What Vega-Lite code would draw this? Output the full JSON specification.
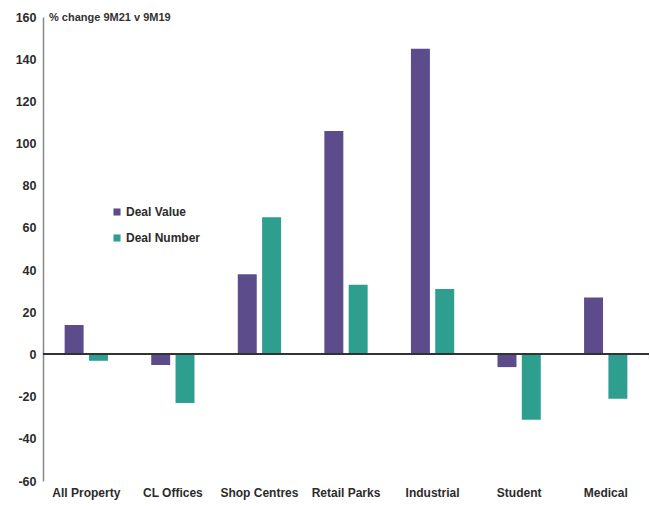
{
  "$schema": "https://vega.github.io/schema/vega-lite/v6.json",
  "width": 606,
  "height": 464,
  "autosize": {"type": "none"},
  "padding": {"left": 43, "top": 17, "right": 1, "bottom": 25},
  "background": "white",
  "config": {
    "view": {"stroke": null},
    "font": "Liberation Sans"
  },
  "title": {
    "text": "% change 9M21 v 9M19",
    "anchor": "start",
    "frame": "group",
    "orient": "top",
    "offset": 0,
    "dx": 6,
    "dy": 12,
    "fontSize": 11,
    "fontWeight": "bold",
    "color": "#333333",
    "font": "Liberation Sans"
  },
  "data": {
    "values": [
      {"category": "All Property", "series": "Deal Value", "value": 14},
      {"category": "All Property", "series": "Deal Number", "value": -3},
      {"category": "CL Offices", "series": "Deal Value", "value": -5},
      {"category": "CL Offices", "series": "Deal Number", "value": -23},
      {"category": "Shop Centres", "series": "Deal Value", "value": 38},
      {"category": "Shop Centres", "series": "Deal Number", "value": 65},
      {"category": "Retail Parks", "series": "Deal Value", "value": 106},
      {"category": "Retail Parks", "series": "Deal Number", "value": 33},
      {"category": "Industrial", "series": "Deal Value", "value": 145},
      {"category": "Industrial", "series": "Deal Number", "value": 31},
      {"category": "Student", "series": "Deal Value", "value": -6},
      {"category": "Student", "series": "Deal Number", "value": -31},
      {"category": "Medical", "series": "Deal Value", "value": 27},
      {"category": "Medical", "series": "Deal Number", "value": -21}
    ]
  },
  "encoding": {
    "x": {
      "field": "category",
      "type": "nominal",
      "sort": null,
      "scale": {"paddingInner": 0.5, "paddingOuter": 0.25},
      "axis": {
        "title": null,
        "domain": false,
        "ticks": false,
        "labelAngle": 0,
        "labelFontSize": 12,
        "labelFontWeight": "bold",
        "labelColor": "#2b2b2b",
        "labelPadding": 6,
        "labelFont": "Liberation Sans"
      }
    },
    "y": {
      "field": "value",
      "type": "quantitative",
      "scale": {"domain": [-60, 160], "nice": false},
      "axis": {
        "title": null,
        "values": [-60, -40, -20, 0, 20, 40, 60, 80, 100, 120, 140, 160],
        "labelExpr": "replace(datum.label, '−', '-')",
        "grid": false,
        "ticks": false,
        "domainColor": "#888888",
        "domainWidth": 1.5,
        "labelFontSize": 12.5,
        "labelFontWeight": "bold",
        "labelColor": "#2b2b2b",
        "labelPadding": 7,
        "labelFont": "Liberation Sans"
      }
    }
  },
  "layer": [
    {
      "mark": {"type": "bar"},
      "encoding": {
        "xOffset": {
          "field": "series",
          "type": "nominal",
          "sort": ["Deal Value", "Deal Number"],
          "scale": {"paddingInner": 0.22}
        },
        "color": {
          "field": "series",
          "type": "nominal",
          "sort": ["Deal Value", "Deal Number"],
          "scale": {"domain": ["Deal Value", "Deal Number"], "range": ["#5c4c8b", "#2e9e8f"]},
          "legend": {
            "title": null,
            "orient": "none",
            "legendX": 68,
            "legendY": 189,
            "symbolType": "square",
            "symbolSize": 50,
            "symbolStrokeWidth": 0,
            "labelFontSize": 12,
            "labelFontWeight": "bold",
            "labelColor": "#2b2b2b",
            "labelFont": "Liberation Sans",
            "labelOffset": 3,
            "rowPadding": 14
          }
        }
      }
    },
    {
      "mark": {"type": "rule", "color": "#333333", "strokeWidth": 1.3},
      "encoding": {
        "y": {"datum": 0},
        "x": null
      }
    }
  ]
}
